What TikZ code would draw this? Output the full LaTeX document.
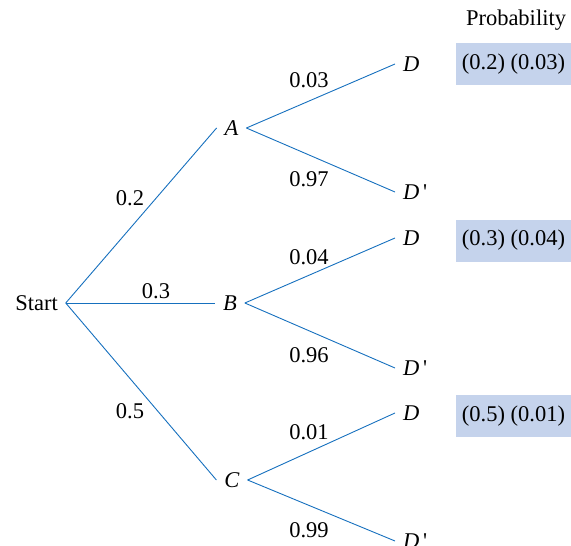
\documentclass[tikz,border=0pt]{standalone}
\usepackage{fontspec}
\setmainfont{Liberation Serif}
\newfontfamily\seriffont{Liberation Serif}
\usepackage{tikz}
\usetikzlibrary{positioning}
\usepackage{xcolor}
\definecolor{bluramo}{RGB}{22,112,190}
\definecolor{fondoprob}{RGB}{197,211,236}

\begin{document}
\begin{tikzpicture}[x=1pt, y=-1pt, every node/.style={font=\seriffont\fontsize{22.5}{26}\selectfont},
  evento/.style={inner sep=0pt, outer sep=8pt},
  ramo/.style={bluramo, line width=0.9pt},
  prob/.style={fill=fondoprob, minimum width=115pt, minimum height=42pt, inner sep=0pt}]
\useasboundingbox (0,0) rectangle (571,546);
\clip (0,0) rectangle (571,546);
% --- nodi dell'albero ---
\node[evento] (start) at (36.5,303) {Start};
\node[evento] (a) at (231.5,128) {\textit{A}};
\node[evento] (b) at (230,303) {\textit{B}};
\node[evento] (c) at (232,480) {\textit{C}};
\node[evento, anchor=west] (ad) at (395,64) {\textit{D}};
\node[evento, anchor=west] (adn) at (395,192) {\textit{D}\,\textquotesingle};
\node[evento, anchor=west] (bd) at (395,238) {\textit{D}};
\node[evento, anchor=west] (bdn) at (395,368) {\textit{D}\,\textquotesingle};
\node[evento, anchor=west] (cd) at (395,413) {\textit{D}};
\node[evento, anchor=west] (cdn) at (395,541) {\textit{D}\,\textquotesingle};
% --- rami ---
\draw[ramo] (start.east) -- (a.west);
\draw[ramo] (start.east) -- (b.west);
\draw[ramo] (start.east) -- (c.west);
\draw[ramo] (a.east) -- (ad.west);
\draw[ramo] (a.east) -- (adn.west);
\draw[ramo] (b.east) -- (bd.west);
\draw[ramo] (b.east) -- (bdn.west);
\draw[ramo] (c.east) -- (cd.west);
\draw[ramo] (c.east) -- (cdn.west);
% --- probabilita' sui rami ---
\node (pa) at (130,198) {0.2};
\node (pb) at (156,291) {0.3};
\node (pc) at (130,411) {0.5};
\node (pad) at (309,80) {0.03};
\node (padn) at (309,179) {0.97};
\node (pbd) at (309,257) {0.04};
\node (pbdn) at (309,355) {0.96};
\node (pcd) at (309,432) {0.01};
\node (pcdn) at (309,530) {0.99};
% --- colonna delle probabilita' ---
\node (titolo) at (516,20) {Probability};
\node[prob] (prob1) at (513.5,64) {(0.2) (0.03)};
\node[prob] (prob2) at (513.5,240.5) {(0.3) (0.04)};
\node[prob] (prob3) at (513.5,416) {(0.5) (0.01)};
\end{tikzpicture}
\end{document}
